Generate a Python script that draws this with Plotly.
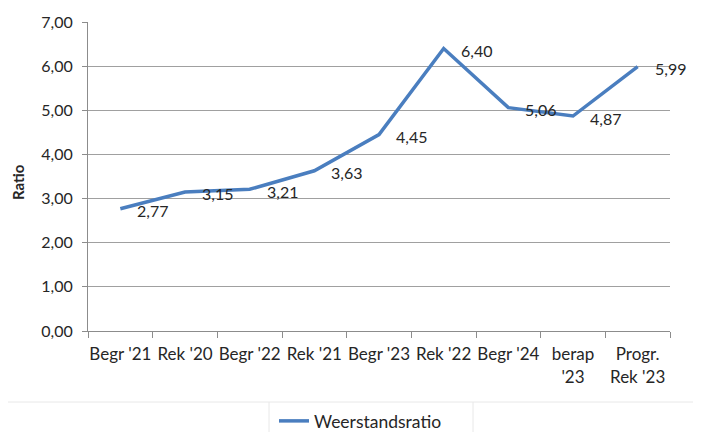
import plotly.graph_objects as go

categories = ["Begr '21", "Rek '20", "Begr '22", "Rek '21", "Begr '23", "Rek '22",
              "Begr '24", "berap<br>'23", "Progr.<br>Rek '23"]
ratio = [2.77, 3.15, 3.21, 3.63, 4.45, 6.40, 5.06, 4.87, 5.99]
y_ticks = [0, 1, 2, 3, 4, 5, 6, 7]
series_name = "Weerstandsratio"

FONT = "Lato"
FS = 16
TXT = "#262626"
OFF = 8  # page body margin
W, H = 704 - OFF, 432 - OFF
L, R, T, B = 88 - OFF, 34, 22 - OFF, 101
PW, PH = W - L - R, H - T - B


def px_x(px):
    return (px - OFF - L) / PW


def px_y(py):
    return (H - B - (py - OFF)) / PH


fig = go.Figure()
fig.add_trace(go.Scatter(
    x=categories, y=ratio, name=series_name,
    mode="lines",
    line=dict(color="#4A7EBF", width=3.5),
))

annotations = []
for c, v in zip(categories, ratio):
    annotations.append(dict(
        x=c, y=v, xref="x", yref="y",
        text=f"{v:.2f}".replace(".", ","),
        showarrow=False, xanchor="left", yanchor="middle",
        xshift=15, yshift=-2,
        font=dict(family=FONT, size=FS, color=TXT),
    ))
annotations.append(dict(
    x=px_x(18), y=px_y(182), xref="paper", yref="paper",
    xanchor="center", yanchor="middle",
    text="<b>Ratio</b>", textangle=-90, showarrow=False,
    font=dict(family=FONT, size=15, color=TXT),
))

fig.update_layout(
    width=W, height=H,
    margin=dict(l=L, r=R, t=T, b=B, autoexpand=False),
    paper_bgcolor="white", plot_bgcolor="white",
    separators=",.",
    font=dict(family=FONT, size=FS, color=TXT),
    showlegend=True,
    legend=dict(orientation="h", x=px_x(274), xanchor="left",
                y=px_y(403), yanchor="top",
                bgcolor="rgba(0,0,0,0)", borderwidth=0,
                font=dict(family=FONT, size=17.5, color=TXT)),
    xaxis=dict(
        type="category", tickson="boundaries", ticks="outside", ticklen=6,
        tickangle=0, ticklabelstandoff=8,
        tickcolor="#8c8c8c", showline=True, linecolor="#8c8c8c", linewidth=1,
        showgrid=False, tickfont=dict(family=FONT, size=17, color=TXT),
        range=[-0.5, 8.5], automargin=False,
    ),
    yaxis=dict(
        range=[0, 7], tickvals=y_ticks, tickformat=".2f",
        ticks="outside", ticklen=5, tickcolor="#8c8c8c",
        ticklabelstandoff=6,
        showline=True, linecolor="#8c8c8c", linewidth=1,
        showgrid=True, gridcolor="#a0a0a0", gridwidth=1,
        zeroline=False, automargin=False,
        tickfont=dict(family=FONT, size=FS, color=TXT),
    ),
    annotations=annotations,
    shapes=[
        dict(type="line", xref="paper", yref="paper", x0=px_x(8), x1=px_x(693),
             y0=px_y(402), y1=px_y(402), line=dict(color="#e8e8e8", width=1)),
        dict(type="line", xref="paper", yref="paper", x0=px_x(269), x1=px_x(269),
             y0=px_y(402), y1=px_y(432), line=dict(color="#e8e8e8", width=1)),
        dict(type="line", xref="paper", yref="paper", x0=px_x(473), x1=px_x(473),
             y0=px_y(402), y1=px_y(432), line=dict(color="#e8e8e8", width=1)),
    ],
)

fig.write_html("out.html")
